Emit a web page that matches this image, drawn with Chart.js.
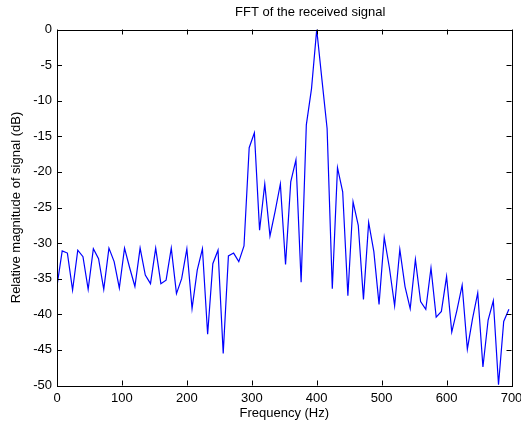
<!DOCTYPE html>
<html>
<head>
<meta charset="utf-8">
<script src="https://cdn.jsdelivr.net/npm/chart.js@4"></script>
<style>
  body { margin: 0; background: #fff; overflow: hidden; }
</style>
</head>
<body>
<canvas id="grafica" width="521" height="423"></canvas>
<script>
var frecuencia = [0, 8, 16, 24, 32, 40, 48, 56, 64, 72, 80, 88, 96, 104, 112, 120, 128, 136, 144, 152,
    160, 168, 176, 184, 192, 200, 208, 216, 224, 232, 240, 248, 256, 264, 272, 280, 288, 296, 304, 312,
    320, 328, 336, 344, 352, 360, 368, 376, 384, 392, 400, 408, 416, 424, 432, 440, 448, 456, 464, 472,
    480, 488, 496, 504, 512, 520, 528, 536, 544, 552, 560, 568, 576, 584, 592, 600, 608, 616, 624, 632,
    640, 648, 656, 664, 672, 680, 688, 696];

var magnitud = [-36.0, -31.1, -31.4, -36.6, -31.0, -31.9, -36.5, -30.8, -32.2, -36.5,
    -30.7, -32.6, -36.3, -30.7, -33.5, -36.1, -30.7, -34.5, -35.7, -30.7,
    -35.7, -35.2, -30.7, -37.1, -35.0, -30.8, -39.2, -33.8, -30.8, -42.8,
    -32.9, -31.0, -45.5, -31.8, -31.4, -32.6, -30.4, -16.6, -14.5, -28.2,
    -21.7, -29.0, -25.5, -21.7, -33.0, -21.4, -18.3, -35.5, -13.4, -8.3,
    0, -7.0, -13.9, -36.4, -19.4, -22.8, -37.4, -24.2, -27.5, -37.9,
    -27.1, -31.2, -38.6, -29.2, -33.5, -38.8, -30.9, -36.1, -39.2, -32.3,
    -38.2, -39.3, -33.5, -40.4, -39.6, -34.7, -42.5, -39.4, -35.9, -44.9,
    -40.6, -37.0, -47.4, -40.8, -38.1, -49.9, -41.0, -39.3];

var ticksX = [0, 100, 200, 300, 400, 500, 600, 700];
var ticksY = [0, -5, -10, -15, -20, -25, -30, -35, -40, -45, -50];
var titulo = 'FFT of the received signal';

var puntos = [];
for (var i = 0; i < frecuencia.length; i++) {
    puntos.push({x: frecuencia[i], y: magnitud[i]});
}

var fuente = {family: '"Liberation Sans", Arial, Helvetica, sans-serif', size: 13};

// caja, marcas hacia dentro (estilo matlab) y el titulo
var caja = {
    id: 'caja',
    afterDraw: function(chart) {
        var ctx = chart.ctx;
        var a = chart.chartArea;
        var sx = chart.scales.x;
        var sy = chart.scales.y;
        var largo = 5;
        ctx.save();
        ctx.strokeStyle = '#000';
        ctx.lineWidth = 1;
        ctx.beginPath();
        for (var i = 0; i < ticksX.length; i++) {
            var px = Math.round(sx.getPixelForValue(ticksX[i])) + 0.5;
            ctx.moveTo(px, a.bottom);
            ctx.lineTo(px, a.bottom - largo);
            ctx.moveTo(px, a.top);
            ctx.lineTo(px, a.top + largo);
        }
        for (var j = 0; j < ticksY.length; j++) {
            var py = Math.round(sy.getPixelForValue(ticksY[j])) + 0.5;
            ctx.moveTo(a.left, py);
            ctx.lineTo(a.left + largo, py);
            ctx.moveTo(a.right, py);
            ctx.lineTo(a.right - largo, py);
        }
        ctx.stroke();
        ctx.strokeRect(Math.round(a.left) + 0.5, Math.round(a.top) + 0.5,
            Math.round(a.right - a.left), Math.round(a.bottom - a.top));

        ctx.fillStyle = '#000';
        ctx.font = fuente.size + 'px ' + fuente.family;
        ctx.textAlign = 'center';
        ctx.textBaseline = 'middle';
        ctx.fillText(titulo, sx.getPixelForValue(390), 12);
        ctx.restore();
    }
};

var ctx = document.getElementById('grafica').getContext('2d');

var grafica = new Chart(ctx, {
    type: 'line',
    data: {
        datasets: [{
            label: 'FFT',
            data: puntos,
            borderColor: '#0000ff',
            borderWidth: 1.2,
            pointRadius: 0,
            tension: 0,
            fill: false
        }]
    },
    options: {
        responsive: false,
        animation: false,
        layout: {
            autoPadding: false,
            padding: {left: 0, right: 9.5, top: 29.5, bottom: 0}
        },
        plugins: {
            legend: {display: false},
            tooltip: {enabled: false},
            title: {display: false}
        },
        scales: {
            x: {
                type: 'linear',
                min: 0,
                max: 700,
                grid: {display: false, drawTicks: false},
                border: {display: false},
                afterFit: function(scale) {
                    scale.height = 37.5;
                    scale.paddingLeft = 0;
                    scale.paddingRight = 0;
                },
                afterBuildTicks: function(scale) {
                    scale.ticks = ticksX.map(function(v) { return {value: v}; });
                },
                ticks: {color: '#000', font: fuente, padding: 5, maxRotation: 0, autoSkip: false},
                title: {display: true, text: 'Frequency (Hz)', color: '#000', font: fuente, padding: {top: 0, bottom: 2}}
            },
            y: {
                type: 'linear',
                min: -50,
                max: 0,
                grid: {display: false, drawTicks: false},
                border: {display: false},
                afterFit: function(scale) { scale.width = 57; },
                afterBuildTicks: function(scale) {
                    scale.ticks = ticksY.map(function(v) { return {value: v}; });
                },
                ticks: {color: '#000', font: fuente, padding: 5, autoSkip: false},
                title: {display: true, text: 'Relative magnitude of signal (dB)', color: '#000', font: fuente, padding: {top: 9, bottom: 0}}
            }
        }
    },
    plugins: [caja]
});
</script>
</body>
</html>
